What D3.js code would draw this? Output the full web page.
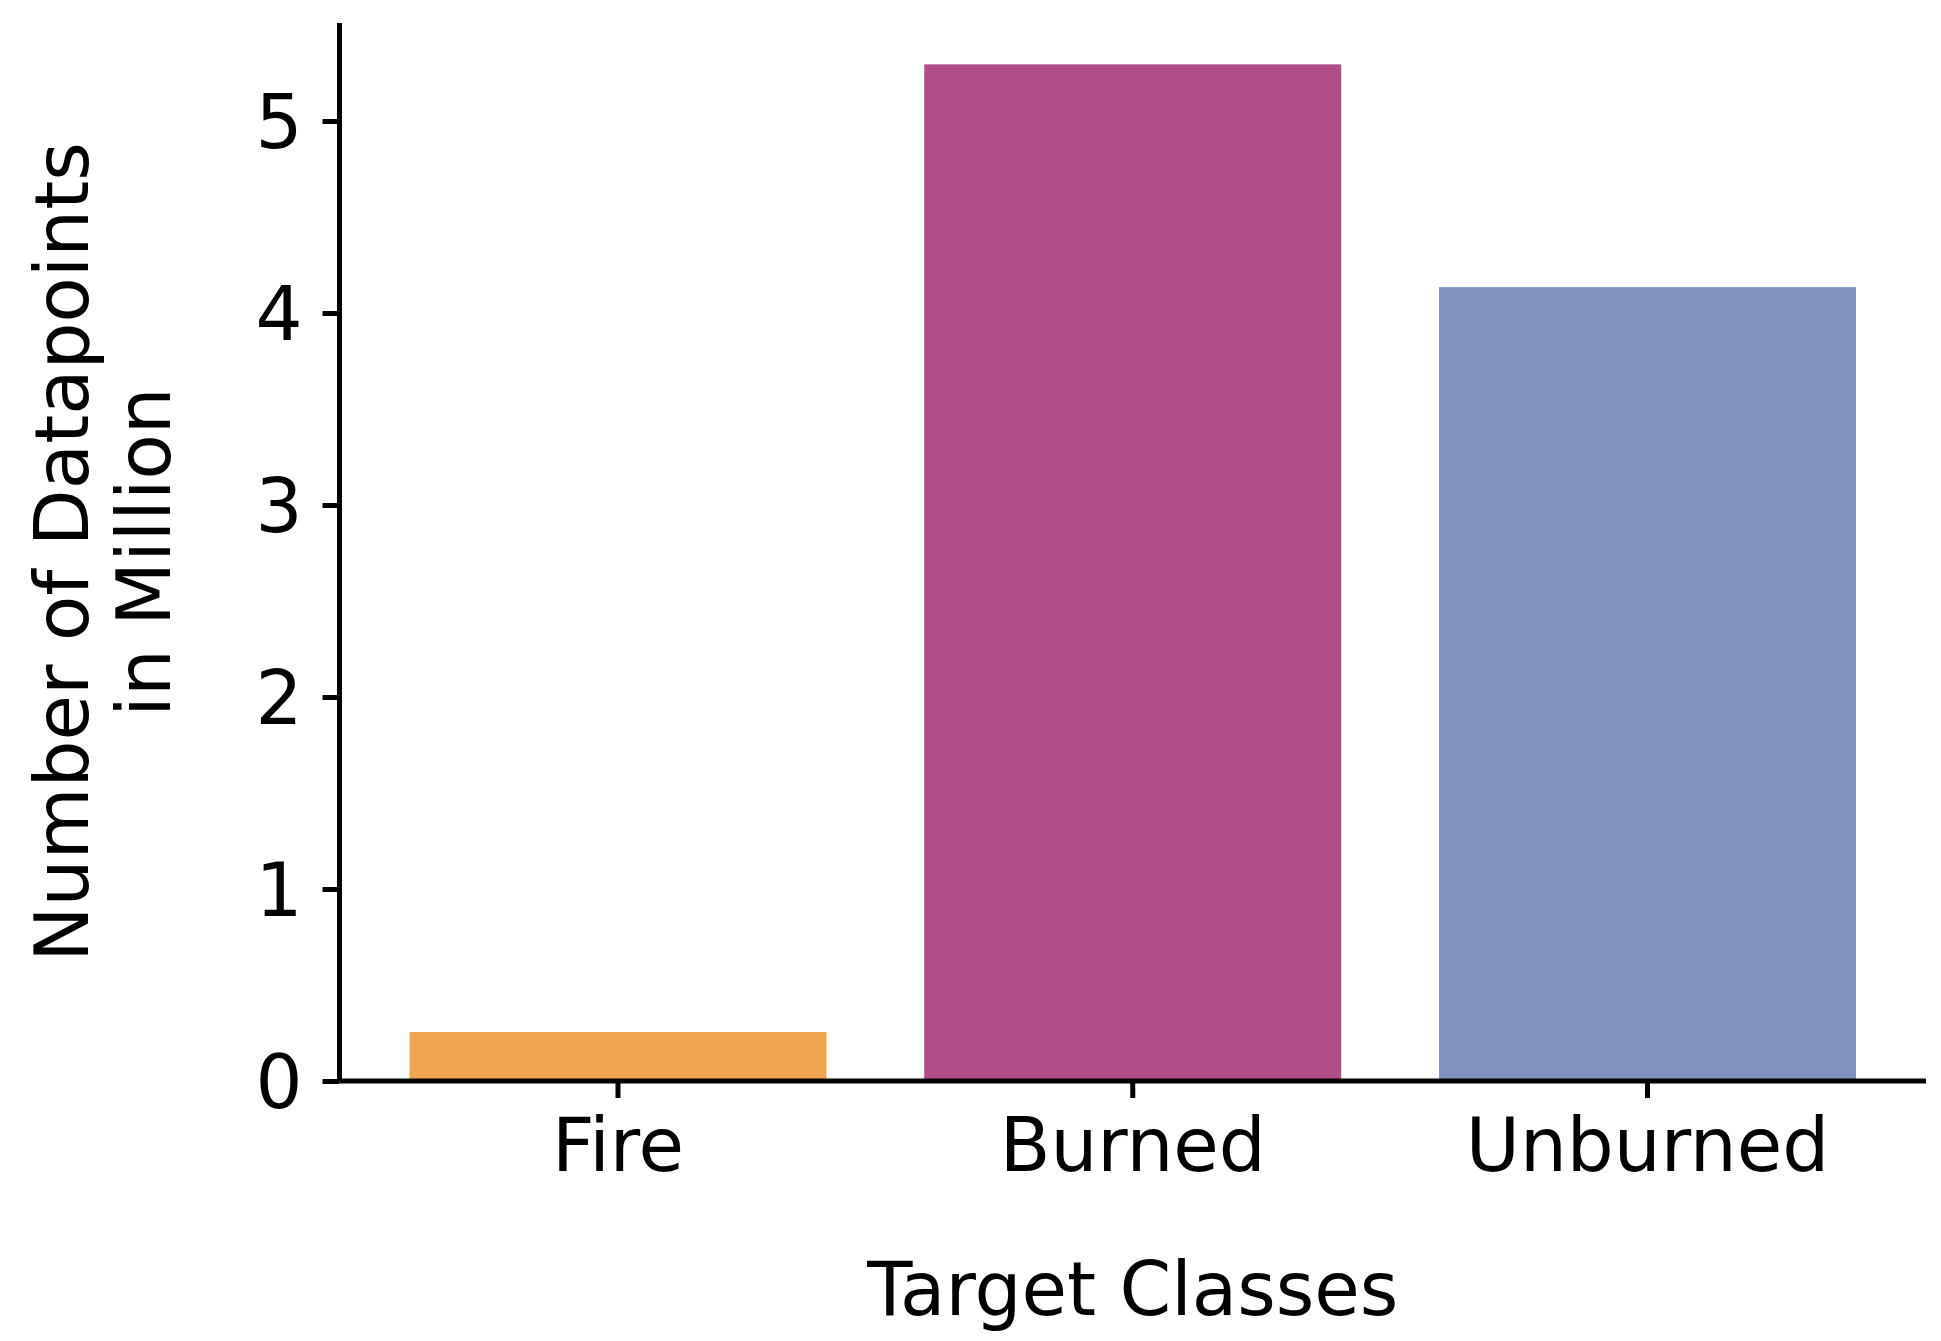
<!DOCTYPE html>
<html>
<head>
<meta charset="utf-8">
<script src="https://cdn.jsdelivr.net/npm/d3@7"></script>
<style>
    html, body { margin: 0; padding: 0; background: #fff; }
    text { font-family: "DejaVu Sans", sans-serif; fill: #000; }
</style>
</head>
<body>
<div id="chart"></div>
<script>
const categories = ["Fire", "Burned", "Unburned"];
const counts = [0.255, 5.295, 4.135];
const barColors = ["#eea451", "#ae4d87", "#7f92c2"];
const yTicks = [0, 1, 2, 3, 4, 5];

const width = 1941;
const height = 1341;
const margin = { top: 23, right: 15, bottom: 260, left: 339.5 };
const fontSize = 74;

const svg = d3.select("#chart")
    .append("svg")
    .attr("width", width)
    .attr("height", height);

const x = d3.scaleBand()
    .domain(categories)
    .range([margin.left, width - margin.right])
    .paddingInner(0.19)
    .paddingOuter(0.136);

const y = d3.scaleLinear()
    .domain([0, 5.5])
    .range([1081, 1081 - 5.5 * 192]);

// bars
svg.selectAll("rect.bar")
    .data(categories)
    .enter()
    .append("rect")
    .attr("class", "bar")
    .attr("x", d => x(d))
    .attr("width", x.bandwidth())
    .attr("y", (d, i) => y(counts[i]))
    .attr("height", (d, i) => y(0) - y(counts[i]))
    .attr("fill", (d, i) => barColors[i]);

//axes
const xAxis = d3.axisBottom(x).tickSize(17).tickPadding(20).tickSizeOuter(0);
const yAxis = d3.axisLeft(y)
    .tickValues(yTicks)
    .tickFormat(d3.format("d"))
    .tickSize(17)
    .tickPadding(20)
    .tickSizeOuter(0);

const gx = svg.append("g")
    .attr("transform", `translate(0, ${y(0)})`)
    .call(xAxis);

const gy = svg.append("g")
    .attr("transform", `translate(${margin.left}, 0)`)
    .call(yAxis);

[gx, gy].forEach(g => {
    g.select(".domain").attr("stroke", "#000").attr("stroke-width", 5);
    g.selectAll(".tick line").attr("stroke", "#000").attr("stroke-width", 5);
    g.selectAll(".tick text")
        .attr("font-family", "DejaVu Sans")
        .attr("font-size", fontSize)
        .attr("fill", "#000");
});
gx.select(".domain").attr("d", `M${margin.left},0H${width - margin.right}`);
gy.select(".domain").attr("d", `M0,${y(0)}V${margin.top}`);
gx.selectAll(".tick text").attr("dy", "0.71em");
gy.selectAll(".tick text").attr("dy", "0.36em");

// axis labels
svg.append("text")
    .attr("x", (margin.left + width - margin.right) / 2)
    .attr("y", 1315)
    .attr("text-anchor", "middle")
    .attr("font-size", fontSize)
    .text("Target Classes");

const ylabel = svg.append("g")
    .attr("transform", "translate(0, 552) rotate(-90)");

ylabel.append("text")
    .attr("x", 0)
    .attr("y", 88)
    .attr("text-anchor", "middle")
    .attr("font-size", fontSize)
    .text("Number of Datapoints");

ylabel.append("text")
    .attr("x", 0)
    .attr("y", 170)
    .attr("text-anchor", "middle")
    .attr("font-size", fontSize)
    .text("in Million");
</script>
</body>
</html>
